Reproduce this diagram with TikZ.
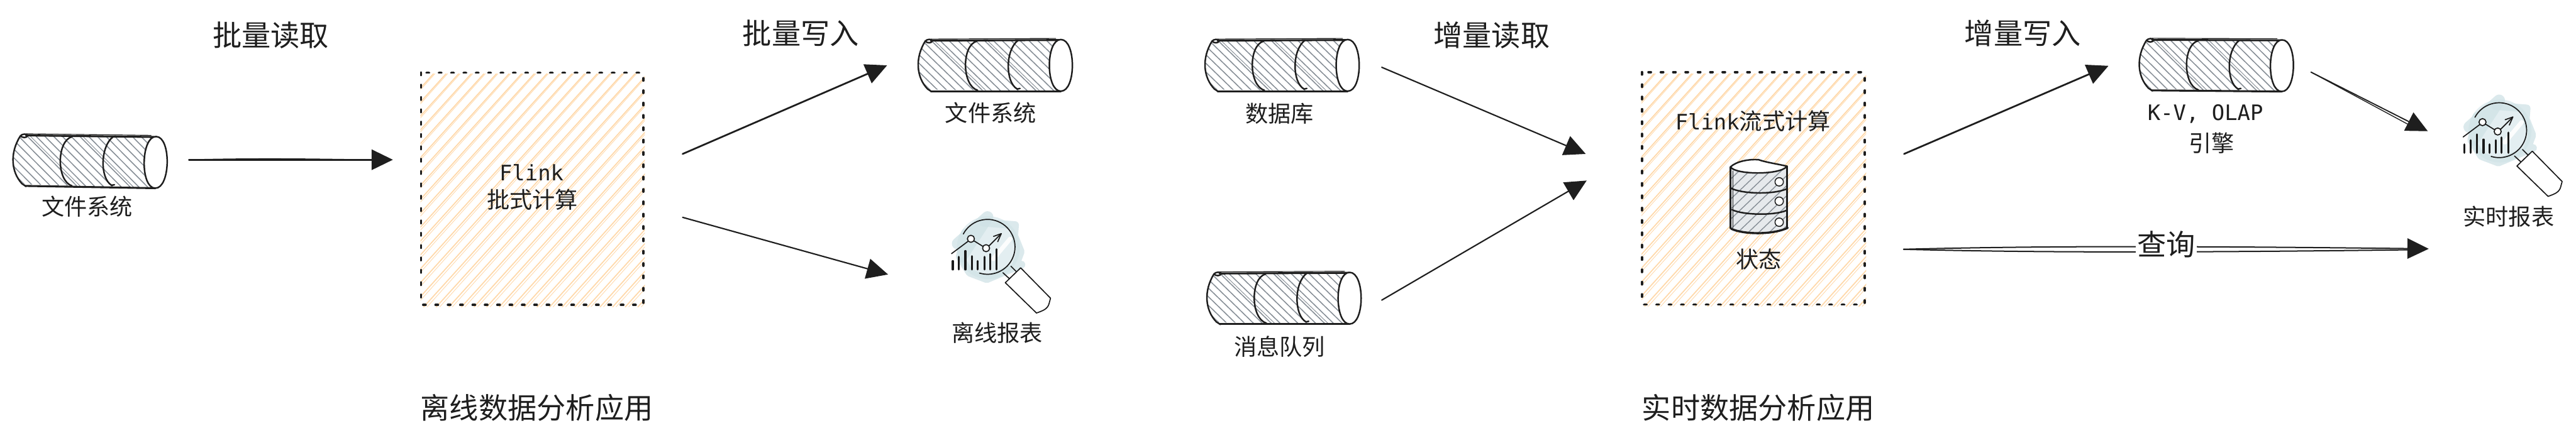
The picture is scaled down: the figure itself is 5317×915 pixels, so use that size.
\documentclass[tikz,border=0pt]{standalone}
\usepackage{fontspec}
\setmainfont{Noto Sans CJK SC}
\setmonofont{DejaVu Sans Mono}
\usetikzlibrary{arrows.meta,calc}
\definecolor{ink}{HTML}{1E1E1E}
\definecolor{hatchor}{HTML}{FFD8A8}
\definecolor{hatchgr}{HTML}{868E96}
\definecolor{dbfill}{HTML}{E6E9EC}
\definecolor{scribA}{HTML}{E3EEF1}
\definecolor{scribB}{HTML}{CFE2E6}
\newcommand{\fs}[1]{\fontsize{#1}{#1}\selectfont}
\newcommand{\lat}[1]{{\fontsize{44}{44}\selectfont\ttfamily #1}}
\tikzset{
  conn/.style={draw=ink,line width=3.6pt,line cap=round,-{Triangle[length=44pt,width=42pt,fill=ink]}},
  sketch/.style={draw=ink,line width=1.8pt,line cap=round},
  title/.style={text=ink,inner sep=0pt,font=\fs{60}},
  label/.style={text=ink,inner sep=0pt,font=\fs{47},align=center},
  frame/.style={draw=ink,line width=5pt,line cap=round,dash pattern=on 5pt off 20.5pt},
  hatchA/.style={draw=hatchor,line width=2.2pt,line cap=round},
  hatchB/.style={draw=hatchgr,line width=2pt,line cap=round},
  outline/.style={draw=ink,line width=3.2pt,line cap=round,line join=round},
  icon/.style={draw=black!90,line width=2.2pt,line cap=round,line join=round}
}
% sketched hachure box: x0 y0 x1 y1
\newcommand{\hatchbox}[4]{%
  \begin{scope}
    \clip (#1-1,#2+3) rectangle (#3+3,#4+6);
    \foreach \c in {0,26,...,900}{
      \draw[hatchA] ({#1+\c},{#2+2}) -- ({#1+\c-(#4-#2)/1.1},{#4+4});
      \draw[hatchA,line width=1.1pt] ({#1+\c+3},{#2+2}) -- ({#1+\c-(#4-#2)/1.1+7},{#4+4});
    }
  \end{scope}
  \draw[frame] (#1,#2) rectangle (#3,#4);
}
% sketched cylinder in the coordinates of a 3x crop
\newcommand{\cylshape}[3]{%
  \begin{scope}[shift={(#1,#2)},rotate=#3,x=0.33333pt,y=-0.33333pt]
    \begin{scope}
      \clip (95,75) .. controls (30,180) and (40,300) .. (110,375) -- (935,385) -- (935,65) -- cycle;
      \foreach \c in {-320,-265,...,900}{
        \draw[hatchB] (\c,60) -- ({\c+350},{400});
      }
      \foreach \c in {-210,130,460}{
        \draw[hatchB,line width=1.2pt] ({\c+9},60) -- ({\c+361},{400});
      }
    \end{scope}
    \draw[outline] (95,75) .. controls (30,180) and (40,300) .. (110,372) -- (135,388);
    \draw[outline,line width=4pt] (130,385) -- (935,385);
    \draw[outline,line width=4pt] (130,72) -- (930,68);
    \draw[ink,line width=1.5pt] (130,62) -- (905,58);
    \draw[outline] (95,75) .. controls (105,62) and (135,60) .. (140,72) .. controls (135,90) and (105,88) .. (95,75);
    \draw[outline] (415,75) .. controls (320,100) and (320,350) .. (420,380);
    \draw[outline] (670,70) .. controls (590,130) and (590,330) .. (665,372) -- (682,368);
    \draw[outline,fill=white] (935,65) .. controls (1030,65) and (1030,385) .. (935,385)
       .. controls (840,385) and (840,65) .. (935,65) -- cycle;
  \end{scope}}
% magnifier with chart, coordinates of a 3x crop
\newcommand{\reporticon}[2]{%
  \begin{scope}[shift={(#1,#2)},x=0.33333pt,y=-0.33333pt]
    \fill[scribA] (330,215) circle [radius=195];
    \draw[scribB,line width=24pt,line cap=round,line join=round,opacity=.75]
      (140,190) -- (325,25) -- (165,270) -- (195,130);
    \draw[scribB,line width=16pt,line cap=round,line join=round,opacity=.75]
      (300,60) -- (495,75) -- (490,140) -- (530,240) -- (500,320) -- (535,320) -- (320,410) -- (215,370) -- (170,300);
    \draw[white,line width=9pt,line cap=round,opacity=.9] (360,285) -- (465,160);
    \draw[icon] (175,130) arc [start angle=-152,end angle=107,radius=170];
    \draw[icon] (420,370) -- (458,405);
    \draw[icon] (470,330) -- (505,365);
    \draw[icon,fill=white] (435,432) -- (530,340) -- (715,528) -- (705,565) .. controls (695,595) and (670,605) .. (628,620) -- cycle;
    \draw[icon] (102,252) -- (205,175);
    \draw[icon] (240,172) -- (298,208);
    \draw[icon] (333,205) -- (410,128);
    \draw[icon] (362,145) -- (410,128) -- (388,178);
    \draw[icon,fill=white] (222,160) circle [radius=22];
    \draw[icon,fill=white] (316,218) circle [radius=22];
    \foreach \bx/\by in {110/298,148/272,188/236,228/268,265/298,305/272,340/255,381/225}{
      \draw[black!90,line width=4.2pt,line cap=round] (\bx,\by) -- (\bx,350);
    }
  \end{scope}}
\begin{document}
\begin{tikzpicture}[x=1pt,y=-1pt]
\useasboundingbox (0,0) rectangle (5317,915);
\fill[white] (0,0) rectangle (5317,915);

% boxes
\hatchbox{869}{150}{1328}{630}
\hatchbox{3389}{149}{3849}{629}

% cylinders
\cylshape{11}{255}{-1}
\cylshape{1878}{60}{0}
\cylshape{2470}{60}{0}
\cylshape{2474}{541}{0}
\cylshape{4399}{58}{-0.5}

% report icons
\reporticon{1930}{440}
\reporticon{5050}{199}

% database icon
\begin{scope}[shift={(3550,320)},x=0.33333pt,y=-0.33333pt]
  \fill[dbfill] (70,75) -- (415,75) -- (415,455) .. controls (330,500) and (150,500) .. (70,455) -- cycle;
  \begin{scope}
    \clip (70,75) -- (415,75) -- (415,455) .. controls (330,500) and (150,500) .. (70,455) -- cycle;
    \foreach \c in {-300,-235,...,900}{
      \draw[hatchB,line width=1.8pt] ({\c+460},60) -- ({\c},500);
    }
  \end{scope}
  \draw[outline] (65,75) -- (65,455);
  \draw[outline,line width=2pt] (80,100) -- (80,450);
  \draw[outline] (415,70) -- (415,455);
  \draw[outline,line width=4.4pt] (70,458) .. controls (150,495) and (330,495) .. (420,452);
  \draw[outline] (65,205) .. controls (140,245) and (340,245) .. (415,210);
  \draw[outline] (75,340) .. controls (150,375) and (340,375) .. (410,345);
  \draw[outline,fill=white] (65,75) .. controls (100,125) and (380,125) .. (415,70)
     .. controls (350,55) and (280,45) .. (240,30) .. controls (180,25) and (100,40) .. (65,75) -- cycle;
  \draw[ink,line width=2pt,fill=white] (367,167) circle [radius=26];
  \draw[ink,line width=2pt,fill=white] (367,287) circle [radius=26];
  \draw[ink,line width=2pt,fill=white] (367,417) circle [radius=26];
\end{scope}

% connector ends
\coordinate (a1s) at (390,330);  \coordinate (a1t) at (811,330);
\coordinate (a2s) at (1409,318); \coordinate (a2t) at (1831,135);
\coordinate (a3s) at (1409,449); \coordinate (a3t) at (1833,567);
\coordinate (a4s) at (2852,139); \coordinate (a4t) at (3273,318);
\coordinate (a5s) at (2852,620); \coordinate (a5t) at (3275,373);
\coordinate (a6s) at (3930,318); \coordinate (a6t) at (4352,136);
\coordinate (a7s) at (4770,149); \coordinate (a7t) at (5011,271);
\coordinate (a8s) at (3929,515); \coordinate (a8t) at (5013,514); \coordinate (a8e) at (4975,516);

\draw[conn] (a1s) -- (a1t);
\draw[sketch] (a1s) .. controls (560,326) and (660,329) .. ($(a1s)!0.9!(a1t)$);
\draw[conn] (a2s) -- (a2t);
\draw[conn,line width=2.8pt] (a3s) -- (a3t);
\draw[conn,line width=2.8pt] (a4s) -- (a4t);
\draw[conn,line width=2.8pt] (a5s) -- (a5t);
\draw[conn] (a6s) -- (a6t);
\draw[conn,line width=2.4pt] (a7s) -- (a7t);
\draw[sketch] (a7s) -- ($(a7s)!0.85!(a7t)+(-3,5)$);
\draw[conn,line width=2.6pt] (a8s) .. controls (4200,508) and (4500,508) .. (a8t);
\draw[sketch,line width=2.6pt] (a8s) .. controls (4200,522) and (4500,522) .. (a8e);

% texts
\node[title] (t1) at (559,73) {批量读取};
\node[title] (t2) at (1653,68) {批量写入};
\node[title] (t3) at (3079,73) {增量读取};
\node[title] (t4) at (4175,68) {增量写入};
\node[title] (t5) at (1108,842) {离线数据分析应用};
\node[title] (t6) at (3629,842) {实时数据分析应用};
\node[title,fill=white,inner xsep=3pt,inner ysep=0pt] (q) at (4471,505) {查询};
\node[label] (l1) at (180,427) {文件系统};
\node[label] (l2) at (2045,233) {文件系统};
\node[label] (l3) at (2641,235) {数据库};
\node[label] (l4) at (2641,716) {消息队列};
\node[label] (l5) at (4552,235) {\lat{K-V, OLAP}};
\node[label] (l6) at (4565,295) {引擎};
\node[label] (l7) at (2058,687) {离线报表};
\node[label] (l8) at (5178,448) {实时报表};
\node[label] (l9) at (3630,536) {状态};
\node[label] (f1) at (1097,356) {\lat{Flink}};
\node[label] (f2) at (1099,413) {批式计算};
\node[label] (f3) at (3618,250) {\lat{Flink}流式计算};
\end{tikzpicture}
\end{document}
